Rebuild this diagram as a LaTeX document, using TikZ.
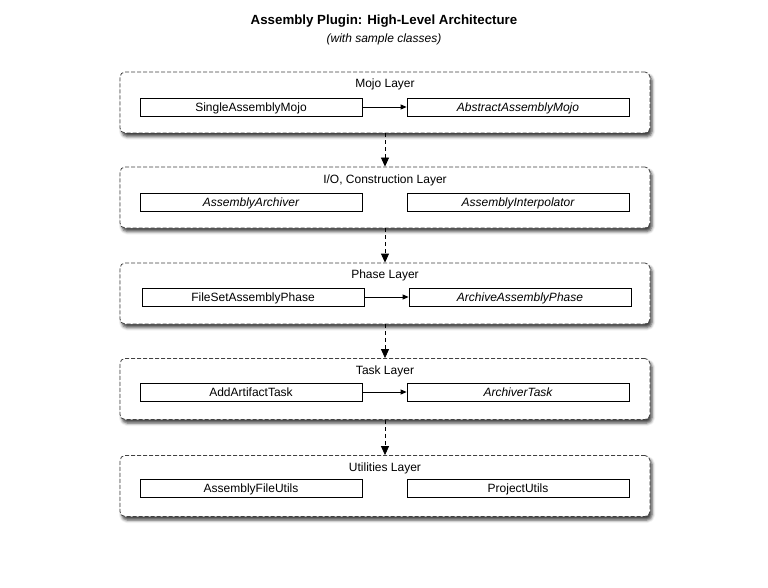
\documentclass[tikz,border=0pt]{standalone}
\usepackage{fontspec}
\setmainfont{Liberation Sans}
\usetikzlibrary{shadows.blur,arrows.meta}
\begin{document}
\begin{tikzpicture}[x=1pt,y=-1pt,
  layer/.style={draw=black!75, dash pattern=on 4pt off 2pt, rounded corners=5pt, fill=white, line width=0.8pt,
    blur shadow={shadow xshift=2pt, shadow yshift=-3.5pt, shadow blur radius=3pt, shadow opacity=75},
    minimum width=530pt, minimum height=61pt, inner sep=0pt},
  layertitle/.style={font=\fontsize{12}{14}\selectfont, inner sep=0pt},
  cls/.style={draw=black, fill=white, line width=0.8pt, minimum width=222pt, minimum height=18pt, inner sep=0pt,
    text height=10.6pt, text depth=2pt, font=\fontsize{12}{14}\selectfont},
  absclass/.style={cls, font=\fontsize{12}{14}\selectfont\itshape},
  dep/.style={draw=black, line width=0.8pt, -{Triangle[length=6pt,width=5pt]}},
  layerdep/.style={draw=black, line width=0.8pt, dash pattern=on 4pt off 3pt, -{Triangle[length=9pt,width=8pt]}}
]
\useasboundingbox (0,0) rectangle (768,588);
\node[font=\bfseries\fontsize{13.3}{15}\selectfont, inner sep=0pt] (title) at (384,21.5) {Assembly Plugin: High-Level Architecture};
\node[font=\itshape\fontsize{12}{14}\selectfont, inner sep=0pt] (subtitle) at (384,39.5) {(with sample classes)};

% layers
\node[layer] (L1) at (385,102.5) {};
\node[layer] (L2) at (385,197.5) {};
\node[layer] (L3) at (385,293.5) {};
\node[layer] (L4) at (385,389) {};
\node[layer] (L5) at (385,486) {};

\node[layertitle] (t1) at (385,84) {Mojo Layer};
\node[layertitle] (t2) at (385,180) {I/O, Construction Layer};
\node[layertitle] (t3) at (385,275) {Phase Layer};
\node[layertitle] (t4) at (385,371) {Task Layer};
\node[layertitle] (t5) at (385,468) {Utilities Layer};

% classes
\node[cls] (a1) at (251,107) {SingleAssemblyMojo};
\node[absclass] (b1) at (518,107) {AbstractAssemblyMojo};
\node[absclass] (a2) at (251,202) {AssemblyArchiver};
\node[absclass] (b2) at (518,202) {AssemblyInterpolator};
\node[cls] (a3) at (253,297) {FileSetAssemblyPhase};
\node[absclass] (b3) at (520,297) {ArchiveAssemblyPhase};
\node[cls] (a4) at (251,392) {AddArtifactTask};
\node[absclass] (b4) at (518,392) {ArchiverTask};
\node[cls] (a5) at (251,488) {AssemblyFileUtils};
\node[cls] (b5) at (518,488) {ProjectUtils};

\draw[dep] (a1) -- (b1);
\draw[dep] (a3) -- (b3);
\draw[dep] (a4) -- (b4);

\draw[layerdep] (L1.south) -- (L2.north);
\draw[layerdep] (L2.south) -- (L3.north);
\draw[layerdep] (L3.south) -- (L4.north);
\draw[layerdep] (L4.south) -- (L5.north);
\end{tikzpicture}
\end{document}
